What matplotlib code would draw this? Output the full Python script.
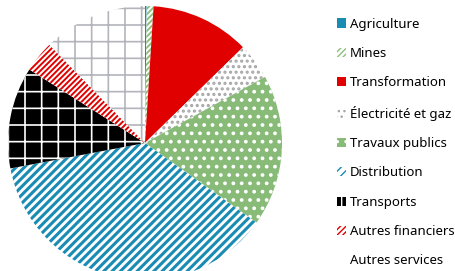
import matplotlib
matplotlib.use("Agg")
import matplotlib.pyplot as plt
from matplotlib.patches import Patch

plt.rcParams['font.family'] = ['Noto Sans', 'DejaVu Sans']

# secteurs (sens horaire depuis midi) et parts en %
sectors = ['Agriculture', 'Mines', 'Transformation', 'Électricité et gaz',
           'Travaux publics', 'Distribution', 'Transports',
           'Autres financiers', 'Autres services']
shares = [0.2, 0.8, 11.7, 4.3, 17.9, 37.2, 12.0, 3.7, 12.3]

# style de chaque part: fond, couleur du motif, motif, épaisseur du motif
faces = ['#1A8CB4', 'white', '#E00000', 'white', '#88BB78',
         'white', 'black', 'white', 'white']
hatch_colors = ['#1A8CB4', '#8CC07C', '#E00000', '#A6A6A6', 'white',
                '#1A8CB4', 'white', '#E00000', '#B4B4BC']
hatches = [None, '//////', None, '...', '..', '////', '+', '//////', '+']
hatch_lw = [1, 1.4, 1, 1.5, 1.5, 2.2, 1.2, 1.4, 1.2]

fig = plt.figure(figsize=(4.56, 2.71), dpi=100)
ax = fig.add_axes([8 / 456, -9 / 271, 274 / 456, 274 / 271])


def style(p, fc, hc, h, lw):
    p.set_facecolor(fc)
    p.set_edgecolor(hc)
    p.set_linewidth(0)
    if h:
        p.set_hatch(h)
        if hasattr(p, 'set_hatch_linewidth'):
            p.set_hatch_linewidth(lw)
        else:
            p._hatch_linewidth = lw


wedges, _ = ax.pie(shares, startangle=90, counterclock=False, radius=1)
for w, fc, hc, h, lw in zip(wedges, faces, hatch_colors, hatches, hatch_lw):
    style(w, fc, hc, h, lw)
ax.set_xlim(-1, 1)
ax.set_ylim(-1, 1)
ax.set_aspect('auto')
ax.axis('off')

handles = []
for i, (fc, hc, h, lw) in enumerate(zip(faces, hatch_colors, hatches, hatch_lw)):
    p = Patch()
    if sectors[i] == 'Autres services':
        style(p, 'white', 'white', None, lw)
    else:
        style(p, fc, hc, h, lw)
    handles.append(p)

fig.legend(handles, sectors, loc='upper left', bbox_to_anchor=(330 / 456, 1 - 11 / 271),
           frameon=False, fontsize=9.5, handlelength=0.7, handleheight=0.7,
           handletextpad=0.3, labelspacing=1.24, borderpad=0)

fig.savefig('out.png', dpi=100)
